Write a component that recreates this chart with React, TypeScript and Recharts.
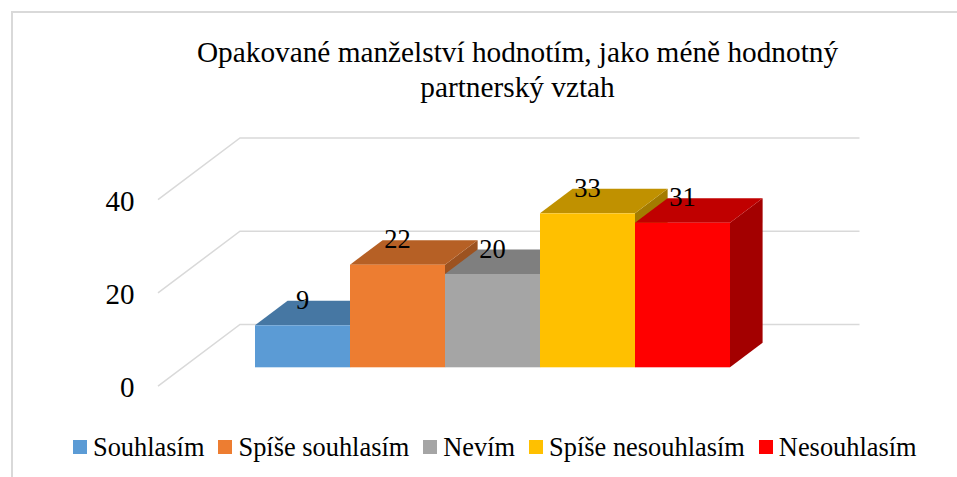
import React from "react";
import { BarChart, Bar, XAxis, YAxis, CartesianGrid, Legend, LabelList } from "recharts";

const categoryNames = ["Odpověď"];
const seriesNames = ["Souhlasím", "Spíše souhlasím", "Nevím", "Spíše nesouhlasím", "Nesouhlasím"];
const seriesKeys = ["s1", "s2", "s3", "s4", "s5"];
const seriesValues = [9, 22, 20, 33, 31];
const frontColors = ["#5B9BD5", "#ED7D31", "#A5A5A5", "#FFC000", "#FF0000"];
const topColors = ["#4677A3", "#B66025", "#7F7F7F", "#C09100", "#C00000"];
const sideColors = ["#3B6588", "#9C5220", "#6B6B6B", "#A37B00", "#A30000"];
const yTicks = [0, 20, 40];
const titleLines = ["Opakované manželství hodnotím, jako méně hodnotný", "partnerský vztah"];

const row: Record<string, string | number> = { category: categoryNames[0] };
seriesKeys.forEach((k, i) => {
  row[k] = seriesValues[i];
});
const tableData = [row];

const FONT = "'Liberation Serif', 'Times New Roman', serif";
const GRID = "#D9D9D9";
const DX = 32.6;
const DY = 24.5;

const makeBarShape = (i: number) => (props: any) => {
  const { x, y, width, height } = props;
  const r = x + width;
  const b = y + height;
  return (
    <g>
      <polygon points={`${r},${y} ${r + DX},${y - DY} ${r + DX},${b - DY} ${r},${b}`} fill={sideColors[i]} />
      <polygon points={`${x},${y} ${x + DX},${y - DY} ${r + DX},${y - DY} ${r},${y}`} fill={topColors[i]} />
      <rect x={x} y={y} width={width} height={height} fill={frontColors[i]} />
    </g>
  );
};

const barLabel = (props: any) => {
  const { x, y, width, value } = props;
  return (
    <text x={x + width / 2} y={y - 16.5} textAnchor="middle" fontFamily={FONT} fontSize={26.5} fill="#000">
      {value}
    </text>
  );
};

const gridLine = (props: any) => {
  const { y1 } = props;
  const backY = y1 - 42.8;
  return (
    <polyline
      key={props.key ?? y1}
      points={`158,${y1 + 18.9} 240,${backY} 859.5,${backY}`}
      fill="none"
      stroke={GRID}
      strokeWidth={1.5}
    />
  );
};

const yTick = (props: any) => {
  const { y, payload } = props;
  return (
    <text x={134.5} y={y + 29.8} textAnchor="end" fontFamily={FONT} fontSize={29} fill="#000">
      {payload.value}
    </text>
  );
};

const legendContent = (props: any) => (
  <div style={{ display: "flex", alignItems: "center", fontFamily: FONT, fontSize: 26.4, lineHeight: "30px", color: "#000", whiteSpace: "nowrap" }}>
    {(props.payload || []).map((p: any) => (
      <div key={p.value} style={{ display: "flex", alignItems: "center", marginRight: 14 }}>
        <span style={{ width: 14, height: 14, background: p.color, marginRight: 6, display: "inline-block" }} />
        <span>{p.value}</span>
      </div>
    ))}
  </div>
);

export default function App() {
  return (
    <div style={{ position: "absolute", left: 0, top: 0, width: 957, height: 477, background: "#fff", overflow: "hidden" }}>
      <div style={{ position: "absolute", left: 11, top: 11, width: 946, height: 466, borderLeft: `2px solid ${GRID}`, borderTop: `2px solid ${GRID}` }} />
      <BarChart
        width={957}
        height={477}
        data={tableData}
        barCategoryGap={0}
        barGap={0}
        margin={{ top: 180.7, right: 226.4, bottom: 109.7, left: 195 }}
        style={{ position: "absolute", left: 0, top: 0 }}
      >
        <CartesianGrid horizontal={gridLine} vertical={false} />
        <XAxis dataKey="category" hide />
        <YAxis width={60} domain={[0, 40]} ticks={yTicks} axisLine={false} tickLine={false} tick={yTick} />
        <Legend
          verticalAlign="middle"
          align="center"
          layout="horizontal"
          itemSorter={null}
          content={legendContent}
          wrapperStyle={{ left: 73, top: 431.5, width: 880 }}
        />
        {seriesKeys.map((k, i) => (
          <Bar key={k} dataKey={k} name={seriesNames[i]} fill={frontColors[i]} isAnimationActive={false} shape={makeBarShape(i)}>
            <LabelList dataKey={k} content={barLabel} />
          </Bar>
        ))}
        <text x={517.5} y={62} textAnchor="middle" fontFamily={FONT} fontSize={29.3} fill="#000">
          {titleLines[0]}
        </text>
        <text x={517.5} y={97} textAnchor="middle" fontFamily={FONT} fontSize={29.3} fill="#000">
          {titleLines[1]}
        </text>
      </BarChart>
    </div>
  );
}
